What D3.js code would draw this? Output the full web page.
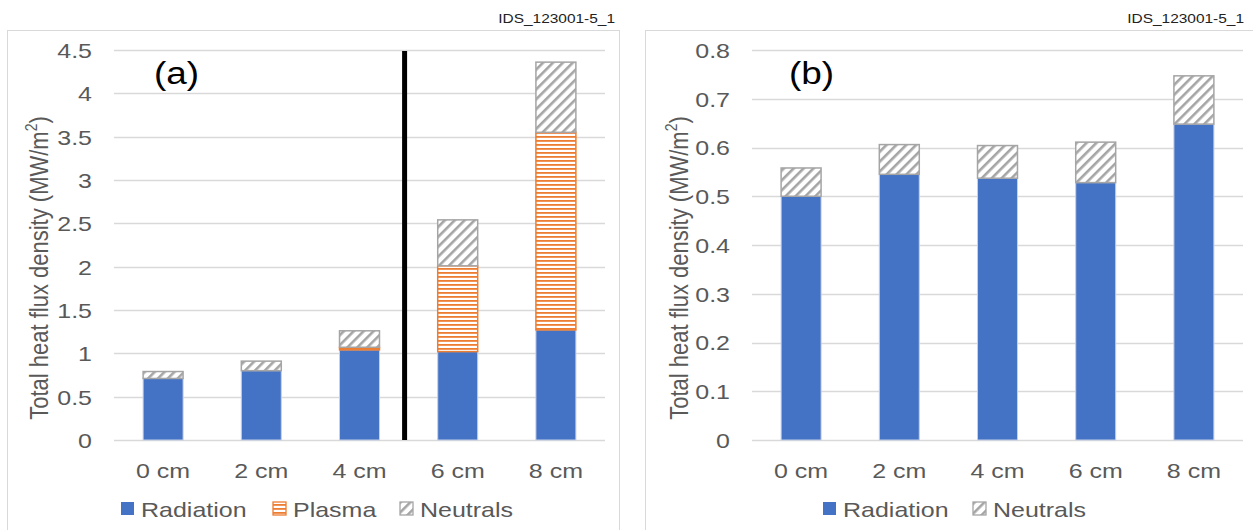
<!DOCTYPE html>
<html>
<head>
<meta charset="utf-8">
<script src="https://cdn.jsdelivr.net/npm/d3@7"></script>
<style>
  html, body { margin: 0; padding: 0; background: #fff; }
  svg { display: block; font-family: "Liberation Sans", Arial, sans-serif; }
</style>
</head>
<body>
<svg id="chart" width="1253" height="530"></svg>
<script>
// Categories: distance
const categories = ["0 cm", "2 cm", "4 cm", "6 cm", "8 cm"];

// Panel (a): stacked heat flux components, MW/m²
const radiationA = [0.71, 0.80, 1.04, 1.02, 1.27];
const plasmaA    = [0.00, 0.00, 0.03, 0.99, 2.28];
const neutralsA  = [0.08, 0.11, 0.19, 0.53, 0.81];
const ticksA = [0, 0.5, 1, 1.5, 2, 2.5, 3, 3.5, 4, 4.5];

// Panel (b): stacked heat flux components, MW/m²
const radiationB = [0.500, 0.545, 0.537, 0.528, 0.648];
const neutralsB  = [0.058, 0.061, 0.067, 0.083, 0.099];
const ticksB = [0, 0.1, 0.2, 0.3, 0.4, 0.5, 0.6, 0.7, 0.8];

const idLabel = "IDS_123001-5_1";

const COL = { radiation: "#4472c4", plasma: "#ed7d31", neutrals: "#a5a5a5", text: "#595959", grid: "#d9d9d9" };
const SX = 1.19; // horizontal stretch of the text glyphs

const svg = d3.select("#chart");

// Fill patterns
const defs = svg.append("defs");
const hatch = defs.append("pattern").attr("id", "hatchN")
  .attr("patternUnits", "userSpaceOnUse").attr("width", 7).attr("height", 7)
  .attr("patternTransform", "rotate(45)");
hatch.append("rect").attr("width", 7).attr("height", 7).attr("fill", "#fff");
hatch.append("rect").attr("x", 0).attr("width", 2.6).attr("height", 7).attr("fill", COL.neutrals);

const lines = defs.append("pattern").attr("id", "linesP")
  .attr("patternUnits", "userSpaceOnUse").attr("width", 8).attr("height", 4);
lines.append("rect").attr("width", 8).attr("height", 4).attr("fill", "#fff");
lines.append("rect").attr("y", 0).attr("width", 8).attr("height", 1.8).attr("fill", COL.plasma);

const seriesStyle = {
  Radiation: { fill: COL.radiation, stroke: "#c5d0ea", sw: 1 },
  Plasma:    { fill: "url(#linesP)", stroke: COL.plasma, sw: 1.5 },
  Neutrals:  { fill: "url(#hatchN)", stroke: COL.neutrals, sw: 1.5 }
};

function stretchedText(g, x, y, txt, opts) {
  return g.append("text")
    .attr("transform", `translate(${x},${y}) scale(${SX},1)`)
    .attr("text-anchor", opts.anchor || "start")
    .attr("font-size", opts.size)
    .attr("fill", opts.fill || COL.text)
    .text(txt);
}

function drawPanel(cfg) {
  const g = svg.append("g");

  // Panel frame
  g.append("rect")
    .attr("x", cfg.frame[0] + 0.5).attr("y", cfg.frame[1] + 0.5)
    .attr("width", cfg.frame[2]).attr("height", cfg.frame[3])
    .attr("fill", "#fff").attr("stroke", COL.grid).attr("stroke-width", 1);

  // Identifier above the frame
  stretchedText(g, cfg.idX, 23, idLabel, { anchor: "end", size: 13, fill: "#222" });

  const x = d3.scaleBand().domain(categories)
    .range([cfg.plot.left, cfg.plot.right])
    .paddingInner(0.593).paddingOuter(0.2965);
  const y = d3.scaleLinear().domain([0, cfg.max]).range([cfg.plot.bottom, cfg.plot.top]);

  // Gridlines
  g.append("g").selectAll("line").data(cfg.ticks).join("line")
    .attr("x1", cfg.plot.left).attr("x2", cfg.plot.right)
    .attr("y1", d => Math.round(y(d)) + 0.5).attr("y2", d => Math.round(y(d)) + 0.5)
    .attr("stroke", COL.grid).attr("stroke-width", 1.3);

  // Y tick labels
  const yAxis = d3.axisLeft(y).tickValues(cfg.ticks).tickSize(0).tickPadding(0)
    .tickFormat(d3.format("~g"));
  const ya = g.append("g").attr("transform", `translate(${cfg.plot.left - 22},0)`).call(yAxis);
  ya.select(".domain").remove();
  ya.selectAll("text")
    .attr("font-size", 21).attr("fill", COL.text)
    .attr("font-family", "Liberation Sans, Arial, sans-serif")
    .attr("transform", `scale(${SX},1)`)
    .attr("x", 0).attr("dy", "0.35em");

  // Stacked bars
  const stackData = categories.map((c, i) => {
    const o = { cat: c };
    cfg.series.forEach(s => { o[s.name] = s.values[i]; });
    return o;
  });
  const keys = cfg.series.map(s => s.name);
  const stacked = d3.stack().keys(keys)(stackData);

  stacked.forEach(layer => {
    const st = seriesStyle[layer.key];
    g.append("g").selectAll("rect")
      .data(layer.filter(d => d[1] - d[0] > 0))
      .join("rect")
      .attr("x", d => x(d.data.cat))
      .attr("width", x.bandwidth())
      .attr("y", d => y(d[1]))
      .attr("height", d => y(d[0]) - y(d[1]))
      .attr("fill", st.fill)
      .attr("stroke", st.stroke)
      .attr("stroke-width", st.sw);
  });

  // Category labels
  const xa = g.append("g");
  categories.forEach(c => {
    stretchedText(xa, x(c) + x.bandwidth() / 2, 478, c, { anchor: "middle", size: 21 });
  });

  // Y axis title
  const t = g.append("text")
    .attr("transform", `translate(${cfg.titleX},${cfg.titleY}) rotate(-90) scale(1,${SX})`)
    .attr("text-anchor", "middle").attr("font-size", 22).attr("fill", COL.text);
  t.append("tspan").text("Total heat flux density (MW/m");
  t.append("tspan").attr("font-size", 14).attr("dy", -9).text("2");
  t.append("tspan").attr("dy", 9).text(")");

  // Panel tag
  stretchedText(g, cfg.tag[0], cfg.tag[1], cfg.tagText, { size: 31, fill: "#000" });

  // Legend
  const lg = g.append("g");
  cfg.legend.forEach(item => {
    const st = seriesStyle[item.name];
    lg.append("rect")
      .attr("x", item.x).attr("y", 502).attr("width", 13).attr("height", 13)
      .attr("fill", st.fill).attr("stroke", item.name === "Radiation" ? "none" : st.stroke)
      .attr("stroke-width", 1.3);
    stretchedText(lg, item.x + 20, 517, item.name, { size: 21 });
  });

  return { g, x, y };
}

// Panel (a)
const pa = drawPanel({
  frame: [7, 30, 612, 520],
  idX: 615,
  plot: { left: 114, right: 605, top: 50, bottom: 440 },
  max: 4.5, ticks: ticksA,
  series: [
    { name: "Radiation", values: radiationA },
    { name: "Plasma", values: plasmaA },
    { name: "Neutrals", values: neutralsA }
  ],
  titleX: 48, titleY: 268,
  tag: [154, 84], tagText: "(a)",
  legend: [{ name: "Radiation", x: 121 }, { name: "Plasma", x: 273 }, { name: "Neutrals", x: 400 }]
});

// Separator between 4 cm and 6 cm in panel (a)
{
  const xs = pa.x;
  const sepX = (xs("4 cm") + xs.bandwidth() + xs("6 cm")) / 2 - 4;
  pa.g.append("line")
    .attr("x1", sepX).attr("x2", sepX)
    .attr("y1", pa.y(4.5) + 1).attr("y2", pa.y(0))
    .attr("stroke", "#000").attr("stroke-width", 5);
}

// Panel (b)
drawPanel({
  frame: [645, 30, 620, 520],
  idX: 1244,
  plot: { left: 752, right: 1243, top: 50, bottom: 440 },
  max: 0.8, ticks: ticksB,
  series: [
    { name: "Radiation", values: radiationB },
    { name: "Neutrals", values: neutralsB }
  ],
  titleX: 688, titleY: 268,
  tag: [789, 84], tagText: "(b)",
  legend: [{ name: "Radiation", x: 823 }, { name: "Neutrals", x: 973 }]
});
</script>
</body>
</html>
